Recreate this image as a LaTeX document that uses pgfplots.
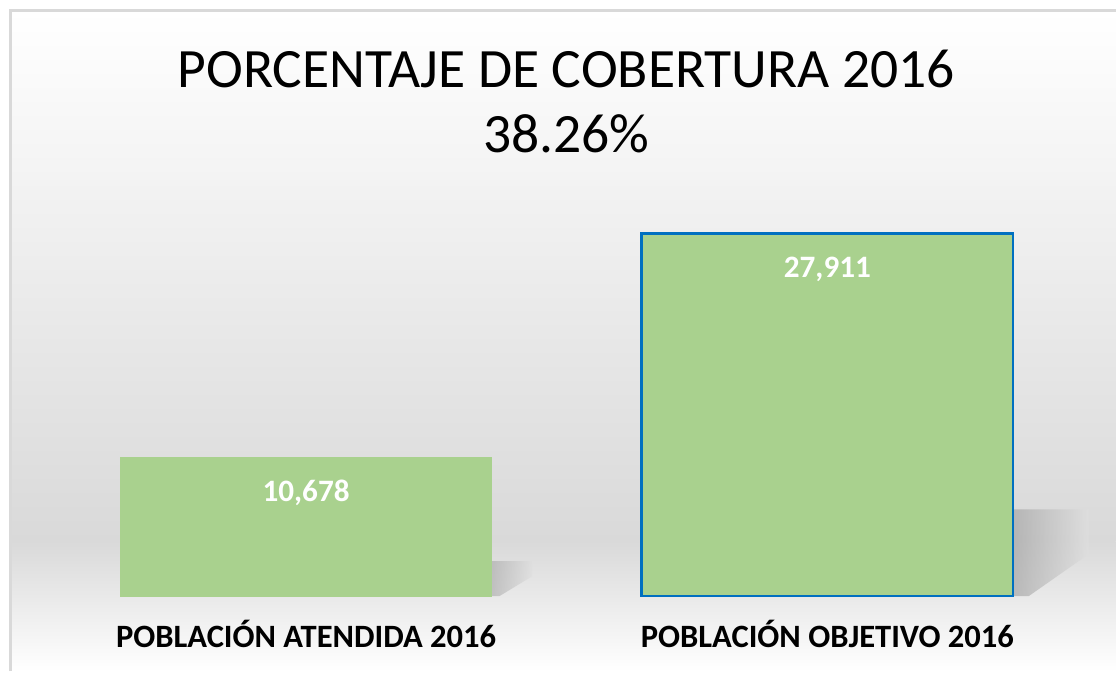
\documentclass[border=0pt]{standalone}
\usepackage{pgfplots}
\pgfplotsset{compat=1.18}
\usepackage{fontspec}
\setmainfont{Carlito}
\definecolor{barfill}{HTML}{A9D18E}
\definecolor{baredge}{HTML}{0070C0}
\definecolor{frame}{HTML}{D9D9D9}
\definecolor{bgmid}{HTML}{D9D9D9}

\begin{document}
\begin{tikzpicture}
  \begin{scope}[x=0.5pt,y=0.5pt]
    % canvas 1117 x 672 (pixel units, y up)
    \fill[white] (0,0) rectangle (1117,672);
    \shade[top color=white, bottom color=bgmid] (11,130) rectangle (1117,661);
    \shade[top color=bgmid, bottom color=white] (11,0) rectangle (1117,130);
    \draw[frame, line width=1.5pt] (11,0) -- (11,661) -- (1117,661);

    % shadows
    \shade[left color=gray!70, right color=gray!25, opacity=0.7]
      (1015,162) -- (1090,162) -- (1090,117) -- (1030,75) -- (1015,75) -- cycle;
    \shade[left color=gray!70, right color=gray!25, opacity=0.6]
      (492,110) -- (533,110) -- (533,95) -- (500,75) -- (492,75) -- cycle;

    \node[anchor=base, font=\fontsize{27.8}{32}\selectfont] at (567,584) {PORCENTAJE DE COBERTURA 2016};
    \node[anchor=base, font=\fontsize{27.8}{32}\selectfont] at (567,519) {38.26\%};
  \end{scope}

  \begin{axis}[
      at={(22.75pt,37.5pt)}, anchor=south west,
      scale only axis, width=522pt, height=208.5pt,
      axis lines=none,
      ybar, bar width=186pt,
      every axis plot/.append style={bar shift=0pt},
      xmin=-0.5, xmax=1.5,
      ymin=0, ymax=32062,
      clip=false,
      nodes near coords,
      nodes near coords style={anchor=base, yshift=-22pt, text=white,
        font=\bfseries\fontsize{15.6}{19}\selectfont,
        /pgf/number format/.cd, fixed, 1000 sep={,}, assume math mode=true},
    ]
    \addplot[fill=barfill, draw=barfill] coordinates {(0,10678)};
    \addplot[fill=barfill, draw=baredge, line width=1.3pt] coordinates {(1,27911)};
    \node[anchor=base, font=\bfseries\fontsize{16.3}{19}\selectfont] at (axis cs:0,0) [yshift=-25.5pt] {POBLACIÓN ATENDIDA 2016};
    \node[anchor=base, font=\bfseries\fontsize{16.3}{19}\selectfont] at (axis cs:1,0) [yshift=-25.5pt] {POBLACIÓN OBJETIVO 2016};
  \end{axis}
\end{tikzpicture}
\end{document}
